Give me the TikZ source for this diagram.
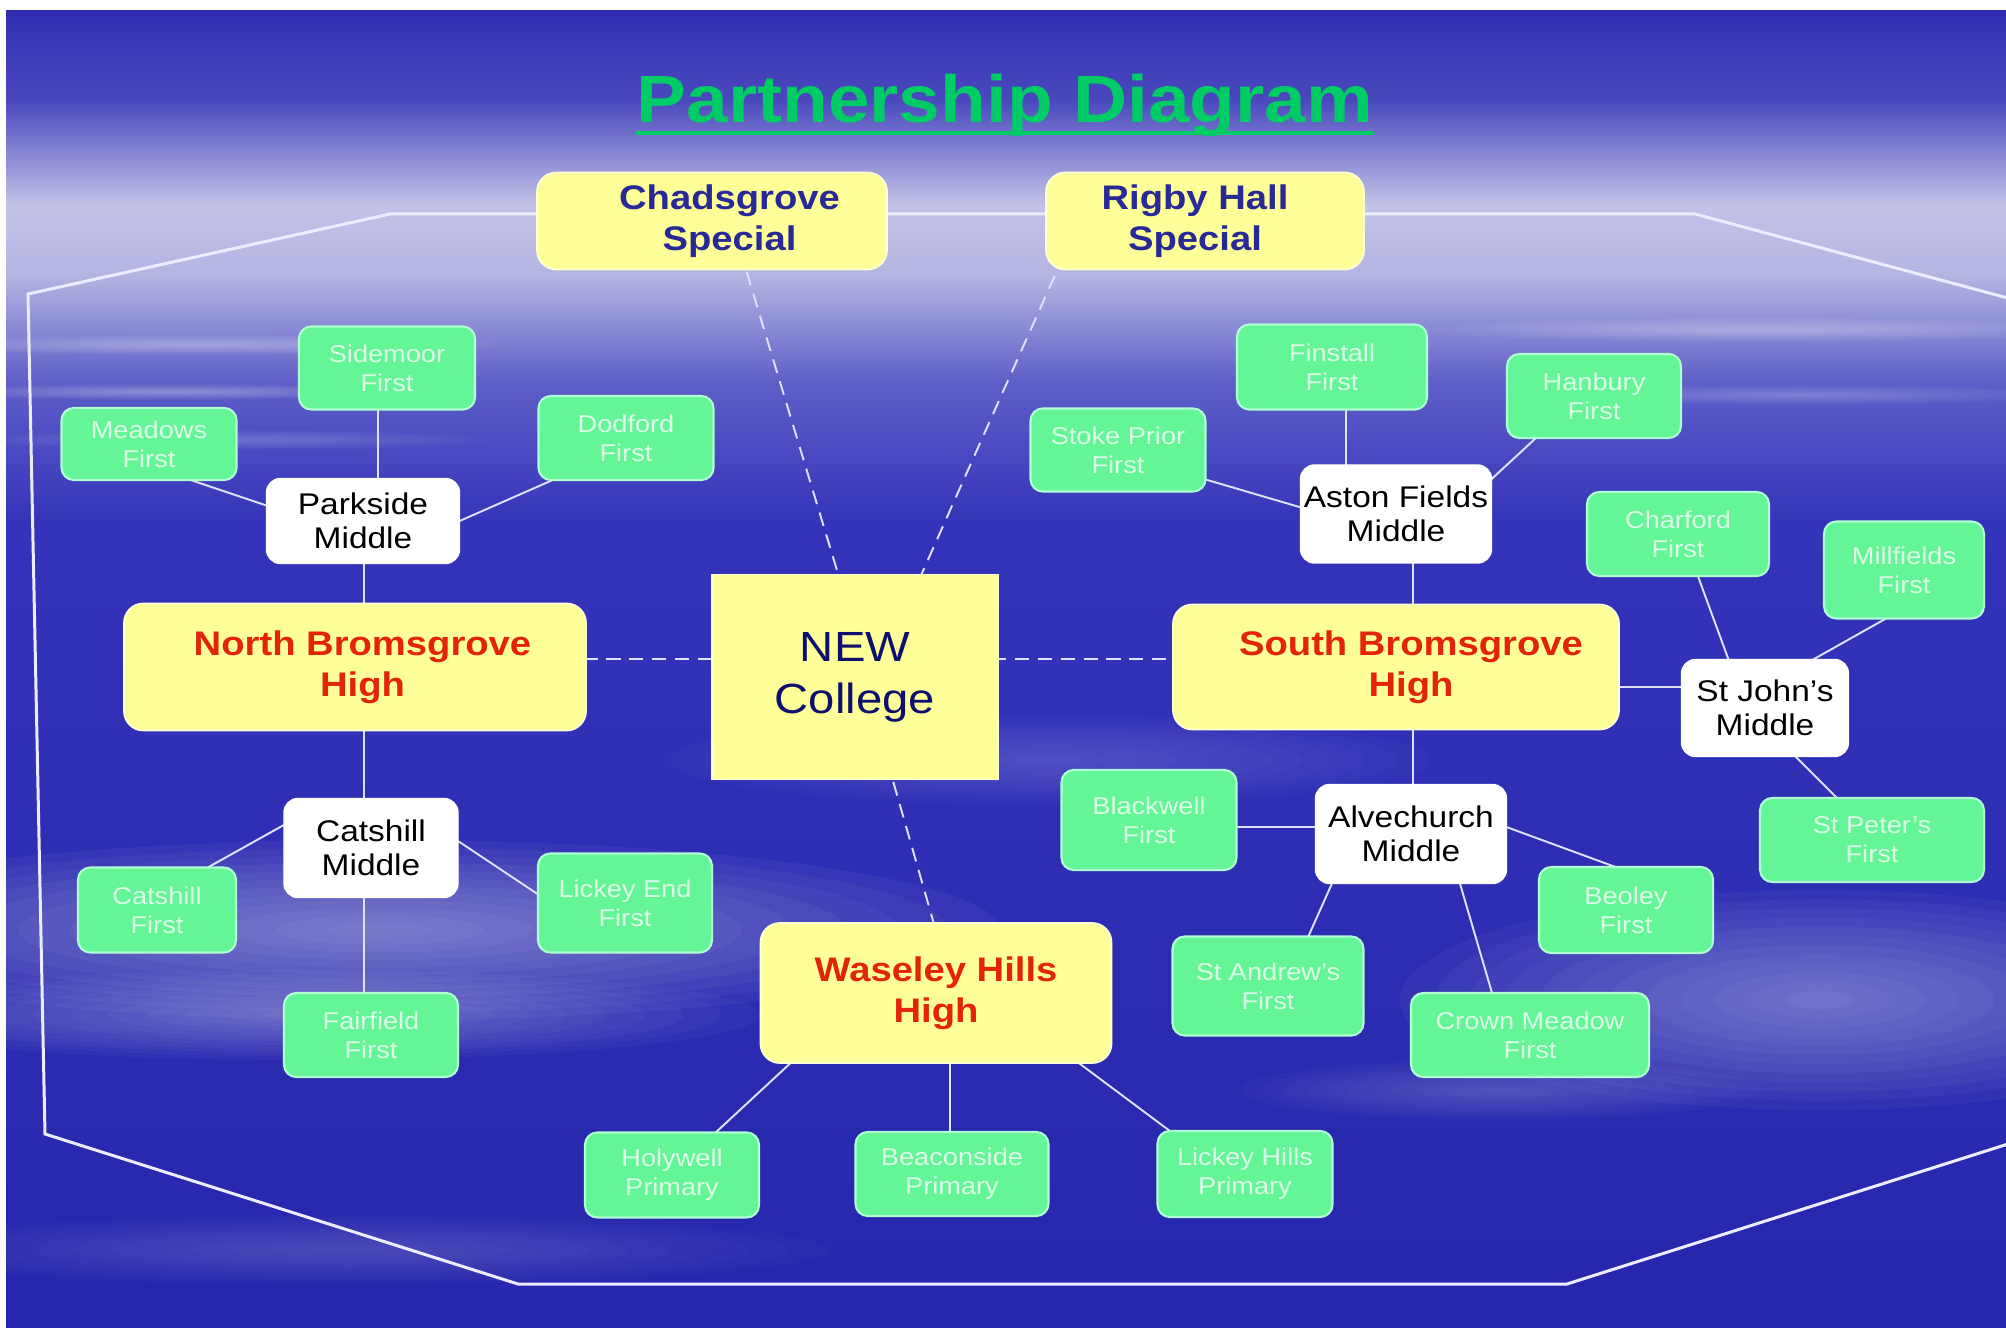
\documentclass[tikz,border=0pt]{standalone}
\usepackage{fontspec}
\setmainfont{Liberation Sans}[FakeStretch=1.12]
\usetikzlibrary{positioning, calc}

\definecolor{bgA}{RGB}{48,46,176}
\definecolor{bgB}{RGB}{75,72,190}
\definecolor{bgC}{RGB}{195,195,232}
\definecolor{bgCC}{RGB}{180,180,226}
\definecolor{bgD}{RGB}{95,95,200}
\definecolor{bgE}{RGB}{52,52,186}
\definecolor{bgF}{RGB}{38,38,172}
\definecolor{titlegreen}{RGB}{0,204,102}
\definecolor{highfill}{RGB}{255,255,153}
\definecolor{highline}{RGB}{255,255,215}
\definecolor{highred}{RGB}{228,36,8}
\definecolor{specialnavy}{RGB}{40,40,150}
\definecolor{collegenavy}{RGB}{15,15,110}
\definecolor{firstfill}{RGB}{100,245,150}
\definecolor{firstline}{RGB}{175,255,210}
\definecolor{firsttext}{RGB}{220,255,232}
\definecolor{linkcol}{RGB}{222,225,255}
\definecolor{framecol}{RGB}{236,236,255}

\pgfdeclarelayer{back}
\pgfdeclarelayer{wires}
\pgfsetlayers{back,wires,main}

\newcommand{\cloud}[5]{%
  \foreach \k in {1,...,12}{\fill[white, opacity=#5] (#1,#2) ellipse ({#3*\k/12} and {#4*\k/12});}}

\tikzset{
  boxsize/.style 2 args={minimum width=#1*0.01cm, minimum height=#2*0.01cm},
  high/.style={draw=highline, line width=.5pt, fill=highfill, rounded corners=5.5pt, inner sep=0pt,
    align=center, text=highred, font=\bfseries\fontsize{9.7}{11.6}\selectfont},
  special/.style={high, text=specialnavy},
  college/.style={high, rounded corners=0pt, text=collegenavy, font=\fontsize{12}{14.8}\selectfont},
  middle/.style={draw=white, fill=white, rounded corners=4pt, inner sep=0pt, align=center,
    text=black, font=\fontsize{8.5}{9.8}\selectfont},
  first/.style={draw=firstline, line width=.6pt, fill=firstfill, rounded corners=3.5pt, inner sep=0pt,
    align=center, text=firsttext, font=\fontsize{6.9}{8.3}\selectfont},
  link/.style={draw=linkcol, line width=.55pt},
  dashlink/.style={link, dash pattern=on 4pt off 2.5pt},
  frame/.style={draw=framecol, line width=.85pt}
}

\begin{document}
\begin{tikzpicture}[x=0.01cm, y=-0.01cm]
\useasboundingbox (0,0) rectangle (2006,1328);

\begin{pgfonlayer}{back}
  \fill[white] (0,0) rectangle (2006,1328);
  \begin{scope}
    \clip (6,11) rectangle (2006,1328);
    \shade[top color=bgA, bottom color=bgB] (6,11) rectangle (2006,101);
    \shade[top color=bgB, bottom color=bgC] (6,100) rectangle (2006,206);
    \shade[top color=bgC, bottom color=bgCC] (6,205) rectangle (2006,276);
    \shade[top color=bgCC, bottom color=bgD] (6,275) rectangle (2006,381);
    \shade[top color=bgD, bottom color=bgE] (6,380) rectangle (2006,521);
    \shade[top color=bgE, bottom color=bgF] (6,520) rectangle (2006,1328);
    \cloud{200}{345}{300}{10}{.03}
    \cloud{170}{392}{240}{8}{.03}
    \cloud{230}{440}{260}{10}{.02}
    \cloud{1760}{330}{330}{12}{.03}
    \cloud{1800}{395}{260}{10}{.025}
    \cloud{380}{930}{620}{90}{.04}
    \cloud{300}{1015}{460}{45}{.03}
    \cloud{1820}{1000}{420}{110}{.035}
    \cloud{1050}{760}{380}{45}{.016}
    \cloud{1500}{1090}{260}{30}{.018}
    \cloud{350}{1250}{480}{35}{.016}
    \draw[frame] (2030,304) -- (1695,214) -- (390,214) -- (28,294) -- (45,1134)
      -- (518,1284) -- (1567,1284) -- (2030,1137);
  \end{scope}
\end{pgfonlayer}

\node[anchor=base, inner sep=0pt, text=titlegreen, font=\bfseries\fontsize{19}{22}\selectfont] (title)
  at (1005,123) {Partnership Diagram};
\draw[titlegreen, line width=1.3pt] ([yshift=-0.1cm]title.base west) -- ([yshift=-0.1cm]title.base east);

\node[special, boxsize={350}{97}] (chad) at (712,221) {\hspace*{0.35cm}Chadsgrove\\\hspace*{0.35cm}Special};
\node[special, boxsize={318}{97}] (rigby) at (1205,221) {Rigby Hall\hspace*{0.2cm}\\Special\hspace*{0.2cm}};
\node[college, boxsize={286}{205}] (newc) at (855,677) {NEW\\College};
\node[high, boxsize={462}{127}] (nbh) at (355,667) {\hspace*{0.15cm}North Bromsgrove\\\hspace*{0.15cm}High};
\node[high, boxsize={446}{125}] (sbh) at (1396,667) {\hspace*{0.3cm}South Bromsgrove\\\hspace*{0.3cm}High};
\node[high, boxsize={351}{140}] (wasel) at (936,993) {Waseley Hills\\High};

\node[middle, boxsize={193}{85}] (parkside) at (363,521) {Parkside\\Middle};
\node[middle, boxsize={174}{99}] (catshill) at (371,848) {Catshill\\Middle};
\node[middle, boxsize={191}{98}] (aston) at (1396,514) {Aston Fields\\Middle};
\node[middle, boxsize={191}{99}] (alve) at (1411,834) {Alvechurch\\Middle};
\node[middle, boxsize={167}{97}] (stjohn) at (1765,708) {St John's\\Middle};

\node[first, boxsize={176}{83}] (sidemoor) at (387,368) {Sidemoor\\First};
\node[first, boxsize={175}{72}] (meadows) at (149,444) {Meadows\\First};
\node[first, boxsize={175}{84}] (dodford) at (626,438) {Dodford\\First};
\node[first, boxsize={158}{85}] (catfirst) at (157,910) {Catshill\\First};
\node[first, boxsize={174}{99}] (lickeye) at (625,903) {Lickey End\\First};
\node[first, boxsize={174}{84}] (fairf) at (371,1035) {Fairfield\\First};
\node[first, boxsize={174}{85}] (holy) at (672,1175) {Holywell\\Primary};
\node[first, boxsize={193}{84}] (beacon) at (952,1174) {Beaconside\\Primary};
\node[first, boxsize={175}{86}] (lickeyh) at (1245,1174) {Lickey Hills\\Primary};
\node[first, boxsize={190}{85}] (finstall) at (1332,367) {Finstall\\First};
\node[first, boxsize={174}{84}] (hanbury) at (1594,396) {Hanbury\\First};
\node[first, boxsize={175}{83}] (stoke) at (1118,450) {Stoke Prior\\First};
\node[first, boxsize={182}{84}] (charford) at (1678,534) {Charford\\First};
\node[first, boxsize={160}{97}] (millf) at (1904,570) {Millfields\\First};
\node[first, boxsize={224}{84}] (stpeter) at (1872,840) {St Peter's\\First};
\node[first, boxsize={175}{100}] (blackw) at (1149,820) {Blackwell\\First};
\node[first, boxsize={174}{86}] (beoley) at (1626,910) {Beoley\\First};
\node[first, boxsize={191}{99}] (standrew) at (1268,986) {St Andrew's\\First};
\node[first, boxsize={238}{84}] (crown) at (1530,1035) {Crown Meadow\\First};

\begin{pgfonlayer}{wires}
  \foreach \a/\ax/\ay/\b/\bx/\by in {
      sidemoor/-9/0/parkside/15/0, parkside/1/0/nbh/9/0, nbh/9/0/catshill/-7/0,
      catshill/-7/0/fairf/-7/0, meadows/0/22/parkside/0/17, dodford/-46/30/parkside/67/13,
      catshill/-71/-32/catfirst/23/-27, catshill/69/-19/lickeye/-65/6,
      wasel/-126/52/holy/28/-28, wasel/14/0/beacon/-2/0, wasel/124/56/lickeyh/-55/-28,
      finstall/14/0/aston/-50/0, stoke/62/22/aston/-66/2, hanbury/-44/29/aston/74/-15,
      aston/17/0/sbh/17/0, sbh/17/0/alve/2/0, sbh/0/20/stjohn/0/-21,
      charford/14/26/stjohn/-29/-28, millf/6/35/stjohn/26/-36, stjohn/19/37/stpeter/-18/-25,
      blackw/0/7/alve/0/-7, alve/79/-13/beoley/14/-34, alve/-73/36/standrew/32/-31,
      alve/45/36/crown/-33/-25}
    \draw[link] ($(\a)+(\ax,\ay)$) -- ($(\b)+(\bx,\by)$);
  \foreach \a/\ax/\ay/\b/\bx/\by in {
      chad/28/29/newc/-9/-77, rigby/-141/34/newc/55/-77, newc/32/83/wasel/4/-48,
      nbh/0/-8/newc/0/-18, newc/0/-18/sbh/0/-8}
    \draw[dashlink] ($(\a)+(\ax,\ay)$) -- ($(\b)+(\bx,\by)$);
\end{pgfonlayer}
\end{tikzpicture}
\end{document}
